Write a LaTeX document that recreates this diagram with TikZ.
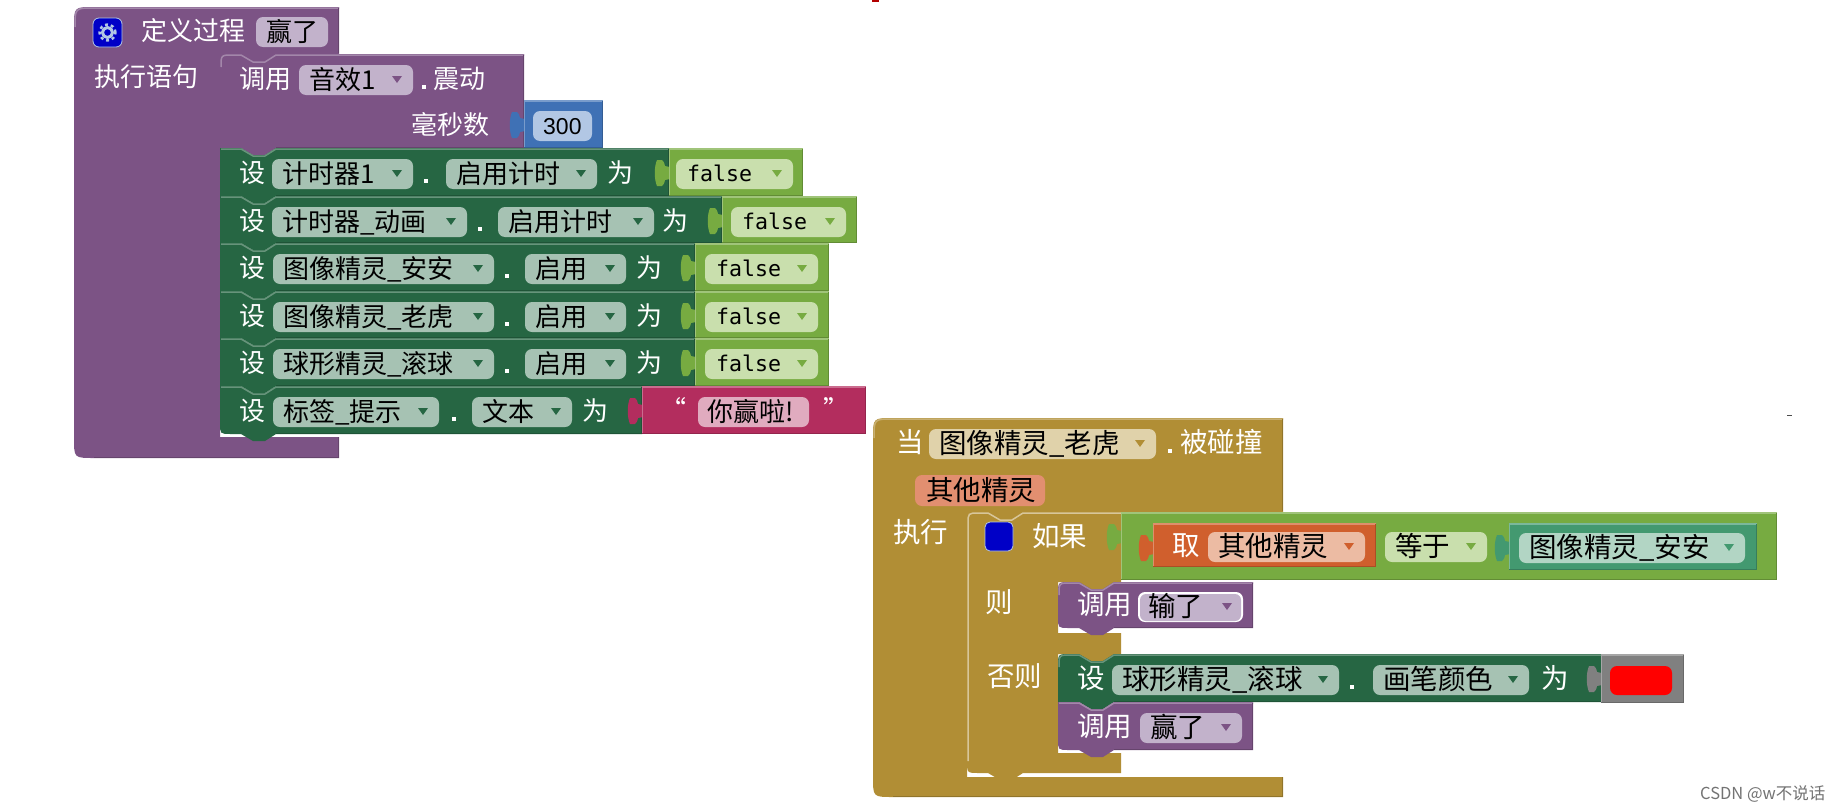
\documentclass[tikz,border=0pt]{standalone}
\usepackage{fontspec}
\setmainfont{Noto Sans CJK SC}
\newfontfamily\monof{DejaVu Sans Mono}
\newfontfamily\sansf{Liberation Sans}
\definecolor{cpur}{HTML}{7C5385}
\definecolor{cpurf}{HTML}{C2B2CB}
\definecolor{cset}{HTML}{266643}
\definecolor{csetf}{HTML}{A6C2B3}
\definecolor{cgrn}{HTML}{77AB41}
\definecolor{cgrnf}{HTML}{C9DFAD}
\definecolor{cblu}{HTML}{3F71B5}
\definecolor{cbluf}{HTML}{B2C7E4}
\definecolor{cpnk}{HTML}{B32D5E}
\definecolor{cpnkf}{HTML}{E0ABBF}
\definecolor{cgld}{HTML}{B18E35}
\definecolor{cgldf}{HTML}{E0D2AA}
\definecolor{corg}{HTML}{D05F2D}
\definecolor{corgf}{HTML}{ECBBA3}
\definecolor{cvar}{HTML}{E28F70}
\definecolor{ctea}{HTML}{439970}
\definecolor{cteaf}{HTML}{B2D5C4}
\definecolor{cgry}{HTML}{808080}
\newcounter{nn}
\tikzset{
  lbl/.style={anchor=base west,inner sep=0pt,text=white,font=\fontsize{26}{28}\selectfont},
  ftx/.style={anchor=base west,inner sep=0pt,text=black,font=\fontsize{26}{28}\selectfont},
  mtx/.style={anchor=base west,inner sep=0pt,text=black,font=\monof\fontsize{21.6}{24}\selectfont},
  ntx/.style={anchor=base west,inner sep=0pt,text=black,font=\sansf\fontsize{23}{26}\selectfont},
  wmk/.style={anchor=base west,inner sep=0pt,text=black!55,font=\fontsize{16.5}{18}\selectfont},
}
% stacked block: colour x1 y1 x2 y2 top-radius bottom-radius
\newcommand{\stk}[7]{%
  \fill[#1] ({#2},{#3+#6}) .. controls ({#2},{#3}) .. ({#2+#6},{#3}) -- ({#2+21},{#3}) -- ({#2+33},{#3+7}) -- ({#2+45},{#3+7}) -- ({#2+56},{#3}) -- ({#4},{#3}) -- ({#4},{#5}) -- ({#2+56},{#5}) -- ({#2+45},{#5+7}) -- ({#2+33},{#5+7}) -- ({#2+21},{#5}) -- ({#2+#7},{#5}) .. controls ({#2},{#5}) .. ({#2},{#5-#7}) -- cycle;
  \draw[#1!70!white,line width=1.5pt] ({#2+1},{#3+#6+1}) .. controls ({#2+1},{#3+1}) .. ({#2+#6+1},{#3+1}) -- ({#2+21},{#3+1}) -- ({#2+33},{#3+8}) -- ({#2+45},{#3+8}) -- ({#2+56},{#3+1}) -- ({#4},{#3+1});
  \draw[#1!82!black,line width=1.2pt] ({#4-.5},{#3+1}) -- ({#4-.5},{#5-.5}) -- ({#2+56},{#5-.5});
}
% value block with plug: colour x1 y1 x2 y2
\newcommand{\val}[5]{%
  \fill[#1] ({#2+1},{#3+25-6}) -- ({#2-4},{#3+25-7}) .. controls ({#2-5},{#3+25-11}) .. ({#2-7},{#3+25-13}) -- ({#2-12},{#3+25-13}) .. controls ({#2-15},{#3+25-6}) and ({#2-15},{#3+25+6}) .. ({#2-12},{#3+25+13}) -- ({#2-7},{#3+25+13}) .. controls ({#2-5},{#3+25+11}) .. ({#2-4},{#3+25+7}) -- ({#2+1},{#3+25+6}) -- cycle;
  \fill[#1] ({#2},{#3}) rectangle ({#4},{#5});
  \draw[#1!70!white,line width=1.5pt] ({#2},{#3+1}) -- ({#4},{#3+1});
  \draw[#1!70!white,line width=1pt] ({#2+.5},{#3+1}) -- ({#2+.5},{#5});
  \draw[#1!82!black,line width=1.2pt] ({#4-.5},{#3+1}) -- ({#4-.5},{#5-.5}) -- ({#2},{#5-.5});
}
% field: x1 x2 yc fill arrowcolour text
\newcommand{\fldbg}[4]{\fill[#4,rounded corners=7pt] ({#1},{#3-15}) rectangle ({#2},{#3+15});}
\newcommand{\arr}[3]{\fill[#3] ({#1-21},{#2-4}) -- ({#1-11},{#2-4}) -- ({#1-16},{#2+3}) -- cycle;}
\newcommand{\fld}[6]{\fldbg{#1}{#2}{#3}{#4}\arr{#2}{#3}{#5}%
  \stepcounter{nn}\node[ftx] (t\thenn) at ({#1+10},{#3+9.5}) {#6};}
\newcommand{\flm}[5]{\fldbg{#1}{#2}{#3}{#4}\arr{#2}{#3}{#5}%
  \stepcounter{nn}\node[mtx] (t\thenn) at ({#1+11},{#3+7}) {false};}
\newcommand{\lab}[3]{\stepcounter{nn}\node[lbl] (t\thenn) at ({#1},{#2+9.5}) {#3};}
\newcommand{\dotl}[2]{\fill[white] ({#1-2},{#2+5}) rectangle ({#1+2},{#2+9});}
\begin{document}
\begin{tikzpicture}[x=1pt,y=-1pt]
\useasboundingbox (0,0) rectangle (1843,811);
\fill[white] (0,0) rectangle (1843,811);
% ===== procedure block =====
\fill[cpur] (74,27) .. controls (74,7) .. (94,7) -- (339,7) -- (339,54) -- (220,54) -- (220,437) -- (339,437) -- (339,458) -- (94,458) .. controls (74,458) .. (74,438) -- cycle;
\fill[cpur] (220,50) rectangle (282,66);
\draw[cpur!70!white,line width=1.5pt] (75,27) .. controls (75,8) .. (94,8) -- (339,8);
\draw[cpur!82!black,line width=1.2pt] (338.5,8) -- (338.5,53);
\draw[cpur!82!black,line width=1.2pt] (338.5,437) -- (338.5,457.5) -- (94,457.5);
% gear icon
\fill[blue!78!black,rounded corners=6pt,draw=cbluf,line width=.8pt] (93,18) rectangle (122,47);
\draw[cbluf,line width=3pt] (107.5,32.5) circle (5pt);
\draw[cbluf,line width=2.4pt,dash pattern=on 3pt off 3pt] (107.5,32.5) circle (8pt);
\lab{141}{31}{定义过程}
\fldbg{256}{328}{32}{cpurf}
\stepcounter{nn}\node[ftx] (t\thenn) at (266,41.5) {赢了};
\lab{94}{77}{执行语句}
% call vibrate
\stk{cpur}{220}{54}{524}{148}{12}{0}
\lab{239}{79}{调用}
\fld{299}{413}{80}{cpurf}{cpur}{音效1}
\dotl{424}{80}
\lab{433}{79}{震动}
\lab{411}{125}{毫秒数}
\val{cblu}{524}{100}{603}{148}
\fldbg{533}{592}{126}{cbluf}
\stepcounter{nn}\node[ntx] (t\thenn) at (543,134) {300};
% set rows
\stk{cset}{220}{148}{669}{196}{0}{0}
\lab{239}{173}{设}
\fld{272}{413}{174}{csetf}{cset}{计时器1}
\dotl{426}{174}
\fld{446}{597}{174}{csetf}{cset}{启用计时}
\lab{607}{173}{为}
\val{cgrn}{669}{148}{803}{196}
\flm{676}{793}{174}{cgrnf}{cgrn}
\stk{cset}{220}{196}{722}{243}{0}{0}
\lab{239}{221}{设}
\fld{272}{467}{222}{csetf}{cset}{计时器\_动画}
\dotl{480}{222}
\fld{498}{654}{222}{csetf}{cset}{启用计时}
\lab{662}{221}{为}
\val{cgrn}{722}{196}{857}{243}
\flm{731}{846}{222}{cgrnf}{cgrn}
\stk{cset}{220}{243}{695}{291}{0}{0}
\lab{239}{268}{设}
\fld{273}{494}{269}{csetf}{cset}{图像精灵\_安安}
\dotl{507}{269}
\fld{525}{626}{269}{csetf}{cset}{启用}
\lab{636}{268}{为}
\val{cgrn}{695}{243}{829}{291}
\flm{705}{818}{269}{cgrnf}{cgrn}
\stk{cset}{220}{291}{695}{338}{0}{0}
\lab{239}{316}{设}
\fld{273}{494}{317}{csetf}{cset}{图像精灵\_老虎}
\dotl{507}{317}
\fld{525}{626}{317}{csetf}{cset}{启用}
\lab{636}{316}{为}
\val{cgrn}{695}{291}{829}{338}
\flm{705}{818}{317}{cgrnf}{cgrn}
\stk{cset}{220}{338}{695}{386}{0}{0}
\lab{239}{363}{设}
\fld{273}{494}{364}{csetf}{cset}{球形精灵\_滚球}
\dotl{507}{364}
\fld{525}{626}{364}{csetf}{cset}{启用}
\lab{636}{363}{为}
\val{cgrn}{695}{338}{829}{386}
\flm{705}{818}{364}{cgrnf}{cgrn}
\stk{cset}{220}{386}{642}{434}{0}{11}
\lab{239}{411}{设}
\fld{273}{439}{412}{csetf}{cset}{标签\_提示}
\dotl{454}{412}
\fld{472}{572}{412}{csetf}{cset}{文本}
\lab{582}{411}{为}
\val{cpnk}{642}{386}{866}{434}
\lab{660}{410}{“}
\fldbg{698}{809}{412}{cpnkf}
\stepcounter{nn}\node[ftx] (t\thenn) at (707,421.5) {你赢啦!};
\lab{823}{410}{”}
% ===== event block =====
\tikzset{
  lbl/.append style={font=\fontsize{27.5}{29}\selectfont},
  ftx/.append style={font=\fontsize{27.5}{29}\selectfont},
}
\fill[cgld] (873,438) .. controls (873,418) .. (893,418) -- (1283,418) -- (1283,512) -- (967,512) -- (967,777) -- (1283,777) -- (1283,797) -- (893,797) .. controls (873,797) .. (873,777) -- cycle;
\fill[cgld] (967,508) rectangle (1030,524);
\draw[cgld!70!white,line width=1.5pt] (874,438) .. controls (874,419) .. (893,419) -- (1283,419);
\draw[cgld!82!black,line width=1.2pt] (1282.5,419) -- (1282.5,511);
\draw[cgld!82!black,line width=1.2pt] (1282.5,777) -- (1282.5,796.5) -- (893,796.5);
% if block body
\fill[cgld] (1073,578) rectangle (1118,592);
\fill[cgld] (1073,650) rectangle (1118,664);
\fill[cgld] (967,524) .. controls (967,512) .. (979,512) -- (988,512) -- (1000,519) -- (1012,519) -- (1023,512) -- (1121,512) -- (1121,582) -- (1058,582) -- (1058,633) -- (1121,633) -- (1121,654) -- (1058,654) -- (1058,753) -- (1121,753) -- (1121,773) -- (1023,773) -- (1012,780) -- (1000,780) -- (988,773) -- (979,773) .. controls (967,773) .. (967,761) -- cycle;
\draw[cgld!50!white,line width=1.5pt] (968,761) -- (968,524) .. controls (968,513) .. (979,513) -- (988,513) -- (1000,520) -- (1012,520) -- (1023,513) -- (1121,513);
\lab{896}{443}{当}
\fld{929}{1156}{444}{cgldf}{cgld}{图像精灵\_老虎}
\dotl{1170}{444}
\lab{1180}{443}{被碰撞}
\fill[cvar,rounded corners=7pt] (915,475) rectangle (1045,506);
\stepcounter{nn}\node[ftx] (t\thenn) at (926,500) {其他精灵};
\lab{893}{533}{执行}
\fill[blue!78!black,rounded corners=5pt,draw=cbluf,line width=.8pt] (985,522) rectangle (1013,551);
\lab{1032}{537}{如果}
\lab{985}{603}{则}
\lab{987}{677}{否则}
% condition
\val{cgrn}{1121}{512}{1777}{580}
\val{corg}{1153}{523}{1376}{567}
\lab{1172}{546}{取}
\fld{1208}{1365}{547}{corgf}{corg}{其他精灵}
\fld{1385}{1487}{547}{cgrnf}{cgrn}{等于}
\val{ctea}{1509}{523}{1757}{570}
\fld{1519}{1745}{548}{cteaf}{ctea}{图像精灵\_安安}
% branches
\stk{cpur}{1058}{582}{1253}{628}{12}{11}
\lab{1077}{605}{调用}
\fldbg{1138}{1243}{607}{white}
\fill[cpurf,rounded corners=6pt] (1140,594) rectangle (1241,621);
\arr{1243}{607}{cpur}
\stepcounter{nn}\node[ftx] (t\thenn) at (1148,616.5) {输了};
\stk{cset}{1058}{654}{1602}{702}{12}{0}
\lab{1077}{679}{设}
\fld{1112}{1339}{680}{csetf}{cset}{球形精灵\_滚球}
\dotl{1352}{680}
\fld{1373}{1529}{680}{csetf}{cset}{画笔颜色}
\lab{1541}{679}{为}
\val{cgry}{1601}{654}{1684}{703}
\fill[red,rounded corners=7pt] (1610,666) rectangle (1672,695);
\stk{cpur}{1058}{702}{1253}{750}{0}{11}
\lab{1077}{727}{调用}
\fld{1140}{1242}{728}{cpurf}{cpur}{赢了}
% marks and watermark
\stepcounter{nn}\node[wmk] (t\thenn) at (1700,799) {CSDN @w不说话};
\fill[red!70!black] (872,0) rectangle (879,1.5);
\fill[black!70] (1787,414.5) rectangle (1792,416);
\end{tikzpicture}
\end{document}
